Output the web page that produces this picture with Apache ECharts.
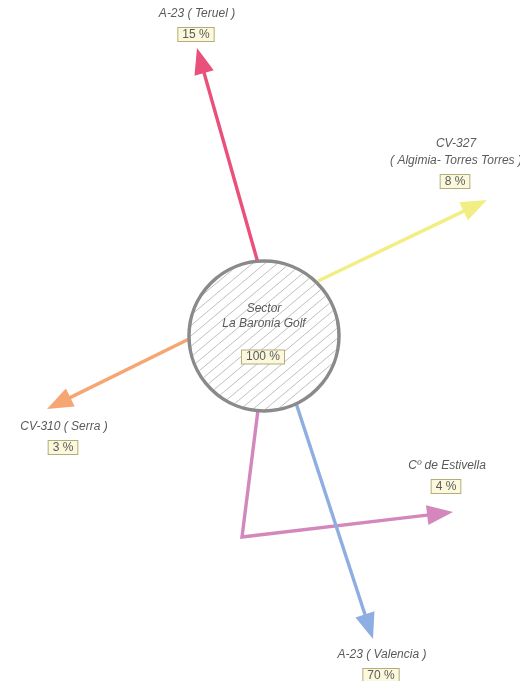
<!DOCTYPE html>
<html><head><meta charset="utf-8">
<script src="https://cdn.jsdelivr.net/npm/echarts@6/dist/echarts.min.js"></script>
<style>html,body{margin:0;padding:0;background:#fff}#c{width:520px;height:681px}</style>
</head><body><div id="c"></div>
<script>
// ---- data ----
const routeNames = ['A-23 ( Teruel )', 'CV-327\n( Algimia- Torres Torres )', 'CV-310 ( Serra )', 'Cº de Estivella', 'A-23 ( Valencia )'];
const routeShares = [15, 8, 3, 4, 70];
const routePaths = [
  [[258, 263], [197, 48]],
  [[318, 281], [487, 200]],
  [[189, 339], [47, 409]],
  [[258, 410], [242, 537], [453, 512]],
  [[296, 403], [373, 639]]
];
const labelAnchors = [[197, 14], [456, 144], [64, 427], [447, 466], [382, 655]];
const sectorName = 'Sector\nLa Baronia Golf';
const sectorShare = 100;
const sectorCenter = [264, 336];
const sectorRadius = 75;

// ---- styles ----
const routeColors = ['#e9507a', '#f3ee84', '#f5a672', '#d387bc', '#8eaee2'];
const nameFont = 'italic 12px "Liberation Sans", Arial, sans-serif';
const pctFont = '12px "Liberation Sans", Arial, sans-serif';
const textColor = '#5a5a5a';

function pctBox(x, y, txt) {
  return {
    type: 'text', x: x, y: y,
    style: {
      text: txt, font: pctFont, fill: textColor, align: 'center', verticalAlign: 'middle',
      backgroundColor: '#fbf8dc', borderColor: '#b3ad7c', borderWidth: 1, padding: [1, 4, 0, 4]
    }
  };
}

function renderRoute(params, api) {
  const i = params.dataIndex;
  const pts = routePaths[i].map(p => api.coord(p));
  const color = routeColors[i];
  const n = pts.length;
  const tip = pts[n - 1], prev = pts[n - 2];
  const dx = tip[0] - prev[0], dy = tip[1] - prev[1];
  const len = Math.hypot(dx, dy);
  const ux = dx / len, uy = dy / len;
  const L = 26, W = 10;
  const base = [tip[0] - ux * L, tip[1] - uy * L];
  const linePts = pts.slice(0, n - 1).concat([[base[0] + ux * 2, base[1] + uy * 2]]);
  return {
    type: 'group',
    children: [
      { type: 'polyline', shape: { points: linePts }, style: { stroke: color, lineWidth: 3.4, fill: null, lineJoin: 'miter' } },
      { type: 'polygon', shape: { points: [tip, [base[0] - uy * W, base[1] + ux * W], [base[0] + uy * W, base[1] - ux * W]] }, style: { fill: color } }
    ]
  };
}

function renderLabel(params, api) {
  const i = params.dataIndex;
  const p = api.coord([api.value(0), api.value(1)]);
  const lines = routeNames[i].split('\n');
  const children = [];
  lines.forEach((t, k) => {
    children.push({ type: 'text', x: p[0], y: p[1] + k * 17,
      style: { text: t, font: nameFont, fill: textColor, align: 'center', verticalAlign: 'middle' } });
  });
  children.push(pctBox(p[0] - 1, p[1] + (lines.length - 1) * 17 + 20.5, routeShares[i] + ' %'));
  return { type: 'group', children: children };
}

function renderSector(params, api) {
  const c = api.coord([api.value(0), api.value(1)]);
  const r = api.size([sectorRadius, 0])[0];
  const children = [{ type: 'circle', shape: { cx: c[0], cy: c[1], r: r }, style: { fill: '#fff' } }];
  const ang = 40 * Math.PI / 180;
  const nx = Math.sin(ang), ny = Math.cos(ang);   // normal to hatch
  const tx = Math.cos(ang), ty = -Math.sin(ang);  // hatch direction (up-right)
  for (let d = -r + 4; d < r - 2; d += 8) {
    const h = Math.sqrt(r * r - d * d) - 2;
    if (h <= 0) continue;
    const px = c[0] + d * nx, py = c[1] + d * ny;
    children.push({ type: 'line', shape: { x1: px - h * tx, y1: py - h * ty, x2: px + h * tx, y2: py + h * ty },
      style: { stroke: '#b8b8b8', lineWidth: 0.9 } });
  }
  children.push({ type: 'circle', shape: { cx: c[0], cy: c[1], r: r }, style: { fill: null, stroke: '#8a8a8a', lineWidth: 3.5 } });
  const nl = sectorName.split('\n');
  nl.forEach((t, k) => {
    children.push({ type: 'text', x: c[0], y: c[1] - 27 + k * 15,
      style: { text: t, font: nameFont, fill: textColor, align: 'center', verticalAlign: 'middle' } });
  });
  children.push(pctBox(c[0] - 1, c[1] + 21, sectorShare + ' %'));
  return { type: 'group', children: children };
}

const chart = echarts.init(document.getElementById('c'), null, { renderer: 'canvas' });
chart.setOption({
  animation: false,
  backgroundColor: '#fff',
  grid: { left: 0, right: 0, top: 0, bottom: 0, containLabel: false },
  xAxis: { type: 'value', min: 0, max: 520, show: false },
  yAxis: { type: 'value', min: 0, max: 681, inverse: true, show: false },
  series: [
    { type: 'custom', name: 'routes', coordinateSystem: 'cartesian2d', clip: false, z: 2,
      data: routeShares.map((v, i) => [routePaths[i][0][0], routePaths[i][0][1], v]), renderItem: renderRoute },
    { type: 'custom', name: 'sector', coordinateSystem: 'cartesian2d', clip: false, z: 3,
      data: [[sectorCenter[0], sectorCenter[1], sectorShare]], renderItem: renderSector },
    { type: 'custom', name: 'labels', coordinateSystem: 'cartesian2d', clip: false, z: 4,
      data: labelAnchors.map((a, i) => [a[0], a[1], routeShares[i]]), renderItem: renderLabel }
  ]
});
</script>
</body></html>
